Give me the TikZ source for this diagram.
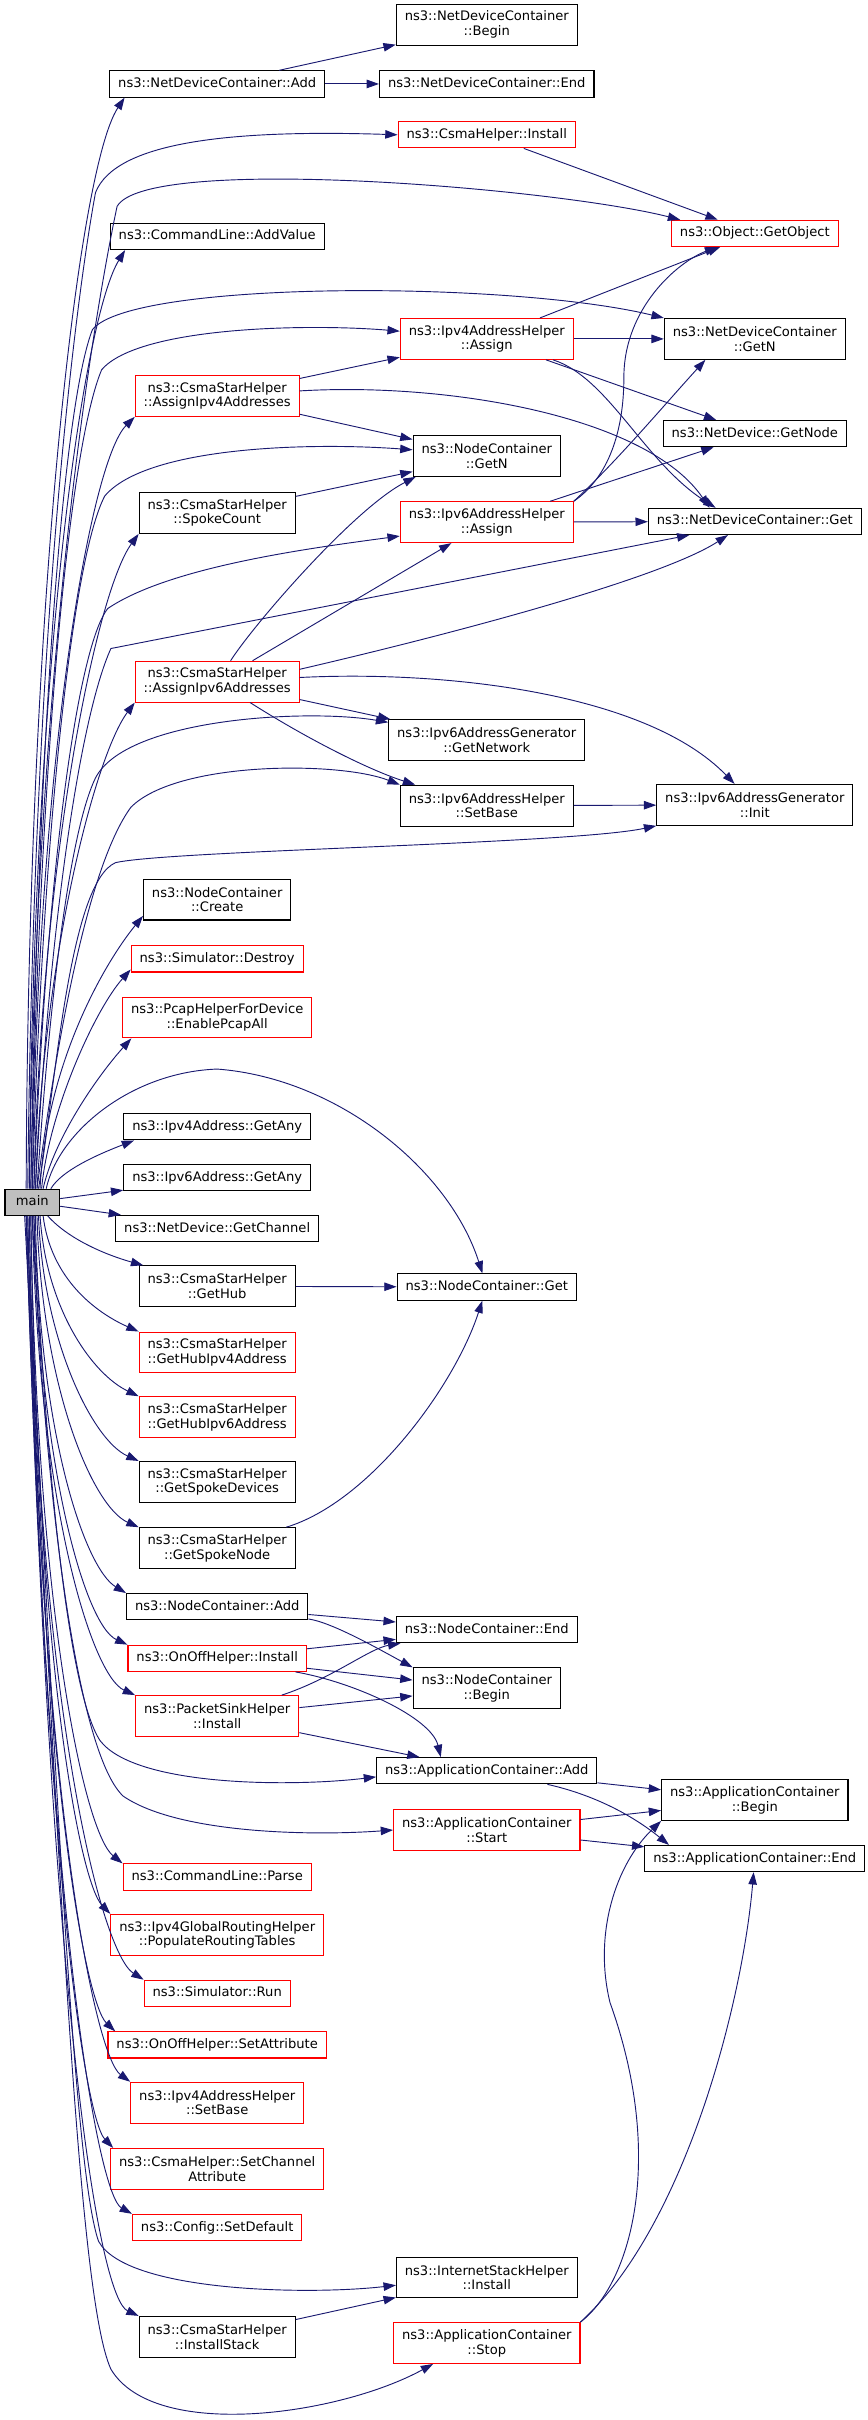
\documentclass[tikz,border=0pt]{standalone}
\usepackage{fontspec}
\setmainfont{DejaVu Sans}
\usetikzlibrary{arrows.meta}
\definecolor{edgeblue}{HTML}{191970}
\definecolor{mainfill}{HTML}{BFBFBF}
\begin{document}
\begin{tikzpicture}[x=1pt, y=-1pt,
    fn/.style={draw=black, line width=0.7pt, rectangle, font=\fontsize{8.5}{9.6}\selectfont, inner xsep=5.5pt, inner ysep=0pt, text height=6.6pt, text depth=2pt, minimum height=17pt},
    fn2/.style={draw=black, line width=0.7pt, rectangle, align=center, font=\fontsize{8.5}{9.6}\selectfont, inner xsep=5.5pt, inner ysep=0pt, minimum height=26.5pt},
    fnred/.style={fn, draw=red},
    fnred2/.style={fn2, draw=red},
    call/.style={draw=edgeblue, line width=0.6pt, -{Triangle[length=8pt,width=5.5pt]}}]
    \useasboundingbox (0,0) rectangle (563,1571);

    % callees of main
    \node (netAdd) [fn] at (141,54.5) {ns3::NetDeviceContainer::Add};
    \node (addValue) [fn] at (141,153.5) {ns3::CommandLine::AddValue};
    \node (starV4) [fnred2] at (141,257) {ns3::CsmaStarHelper\\::AssignIpv4Addresses};
    \node (spokeCount) [fn2] at (141,333) {ns3::CsmaStarHelper\\::SpokeCount};
    \node (starV6) [fnred2] at (141,442.5) {ns3::CsmaStarHelper\\::AssignIpv6Addresses};
    \node (ncCreate) [fn2] at (141,584) {ns3::NodeContainer\\::Create};
    \node (simDestroy) [fnred] at (141,622.5) {ns3::Simulator::Destroy};
    \node (pcapAll) [fnred2] at (141,660.5) {ns3::PcapHelperForDevice\\::EnablePcapAll};
    \node (v4Any) [fn] at (141,731.5) {ns3::Ipv4Address::GetAny};
    \node (v6Any) [fn] at (141,764.5) {ns3::Ipv6Address::GetAny};
    \node (main) [fn, fill=mainfill, minimum width=35.5pt] at (21,780.5) {main};
    \node (getChannel) [fn] at (141,797.5) {ns3::NetDevice::GetChannel};
    \node (getHub) [fn2] at (141,835) {ns3::CsmaStarHelper\\::GetHub};
    \node (getHubV4) [fnred2] at (141,878) {ns3::CsmaStarHelper\\::GetHubIpv4Address};
    \node (getHubV6) [fnred2] at (141,920) {ns3::CsmaStarHelper\\::GetHubIpv6Address};
    \node (spokeDevs) [fn2] at (141,962) {ns3::CsmaStarHelper\\::GetSpokeDevices};
    \node (spokeNode) [fn2] at (141,1005) {ns3::CsmaStarHelper\\::GetSpokeNode};
    \node (ncAdd) [fn] at (141,1043) {ns3::NodeContainer::Add};
    \node (onoffInstall) [fnred] at (141,1076.5) {ns3::OnOffHelper::Install};
    \node (sinkInstall) [fnred2] at (141,1114) {ns3::PacketSinkHelper\\::Install};
    \node (clParse) [fnred] at (141,1218.5) {ns3::CommandLine::Parse};
    \node (populate) [fnred2] at (141,1256) {ns3::Ipv4GlobalRoutingHelper\\::PopulateRoutingTables};
    \node (simRun) [fnred] at (141,1294) {ns3::Simulator::Run};
    \node (setAttr) [fnred] at (141,1327.5) {ns3::OnOffHelper::SetAttribute};
    \node (v4SetBase) [fnred2] at (141,1365) {ns3::Ipv4AddressHelper\\::SetBase};
    \node (setChannel) [fnred2] at (141,1408) {ns3::CsmaHelper::SetChannel\\Attribute};
    \node (setDefault) [fnred] at (141,1446) {ns3::Config::SetDefault};
    \node (installStack) [fn2] at (141,1517) {ns3::CsmaStarHelper\\::InstallStack};

    % third column
    \node (netBegin) [fn2] at (316,16) {ns3::NetDeviceContainer\\::Begin};
    \node (netEnd) [fn] at (316,54.5) {ns3::NetDeviceContainer::End};
    \node (csmaInstall) [fnred] at (316,87.5) {ns3::CsmaHelper::Install};
    \node (v4Assign) [fnred2] at (316,220) {ns3::Ipv4AddressHelper\\::Assign};
    \node (ncGetN) [fn2] at (316,296) {ns3::NodeContainer\\::GetN};
    \node (v6Assign) [fnred2] at (316,339) {ns3::Ipv6AddressHelper\\::Assign};
    \node (getNetwork) [fn2] at (316,480.5) {ns3::Ipv6AddressGenerator\\::GetNetwork};
    \node (v6SetBase) [fn2] at (316,523) {ns3::Ipv6AddressHelper\\::SetBase};
    \node (ncGet) [fn] at (316,835.5) {ns3::NodeContainer::Get};
    \node (ncEnd) [fn] at (316,1058) {ns3::NodeContainer::End};
    \node (ncBegin) [fn2] at (316,1096) {ns3::NodeContainer\\::Begin};
    \node (appAdd) [fn] at (316,1149.5) {ns3::ApplicationContainer::Add};
    \node (appStart) [fnred2] at (316,1188) {ns3::ApplicationContainer\\::Start};
    \node (ishInstall) [fn2] at (316,1478.5) {ns3::InternetStackHelper\\::Install};
    \node (appStop) [fnred2] at (316,1521) {ns3::ApplicationContainer\\::Stop};

    % fourth column
    \node (getObject) [fnred] at (490,151.5) {ns3::Object::GetObject};
    \node (netGetN) [fn2] at (490,220) {ns3::NetDeviceContainer\\::GetN};
    \node (getNode) [fn] at (490,281.5) {ns3::NetDevice::GetNode};
    \node (netGet) [fn] at (490,338.5) {ns3::NetDeviceContainer::Get};
    \node (v6Init) [fn2] at (490,522.5) {ns3::Ipv6AddressGenerator\\::Init};
    \node (appBegin) [fn2] at (490,1168.5) {ns3::ApplicationContainer\\::Begin};
    \node (appEnd) [fn] at (490,1206.5) {ns3::ApplicationContainer::End};

    % main, upwards
    \draw[call] ([xshift=-4pt]main.north) .. controls (18,400) and (50,110) .. ([xshift=10pt]netAdd.south west);
    \draw[call] ([xshift=-3pt]main.north) .. controls (22,400) and (50,190) .. (62,125) .. controls (75,92) and (150,84) .. (csmaInstall.west);
    \draw[call] ([xshift=-2pt]main.north) .. controls (24,420) and (62,200) .. (76,134) .. controls (95,100) and (360,122) .. ([xshift=6pt]getObject.north west);
    \draw[call] ([xshift=-2pt]main.north) .. controls (22,420) and (55,205) .. ([xshift=10pt]addValue.south west);
    \draw[call] ([xshift=-1pt]main.north) .. controls (25,460) and (42,260) .. (60,214) .. controls (85,182) and (330,182) .. (netGetN.north west);
    \draw[call] ([xshift=-1pt]main.north) .. controls (26,490) and (45,290) .. (66,240) .. controls (90,212) and (200,210) .. ([yshift=5pt]v4Assign.west);
    \draw[call] (main.north) .. controls (24,500) and (58,300) .. (starV4.south west);
    \draw[call] (main.north) .. controls (28,530) and (48,360) .. (68,322) .. controls (95,290) and (200,287) .. ([yshift=4pt]ncGetN.west);
    \draw[call] ([xshift=1pt]main.north) .. controls (27,560) and (62,385) .. (spokeCount.south west);
    \draw[call] ([xshift=1pt]main.north) .. controls (30,570) and (50,420) .. (70,395) .. controls (110,368) and (200,356) .. ([yshift=-9pt]v6Assign.west);
    \draw[call] ([xshift=2pt]main.north) .. controls (32,600) and (52,465) .. (72,421) -- ([xshift=27pt]netGet.south west);
    \draw[call] ([xshift=2pt]main.north) .. controls (28,620) and (62,490) .. (starV6.south west);
    \draw[call] ([xshift=3pt]main.north) .. controls (32,650) and (45,540) .. (62,505) .. controls (82,466) and (200,460) .. ([yshift=-2pt]getNetwork.north west);
    \draw[call] ([xshift=3pt]main.north) .. controls (35,690) and (55,565) .. (85,524) .. controls (115,494) and (220,494) .. (v6SetBase.north west);
    \draw[call] ([xshift=4pt]main.north) .. controls (36,705) and (45,573) .. (75,560) .. controls (110,552) and (370,548) .. (v6Init.south west);
    \draw[call] ([xshift=5pt]main.north) .. controls (30,690) and (68,625) .. ([yshift=3pt]ncCreate.south west);
    \draw[call] ([xshift=6pt]main.north) .. controls (32,720) and (62,655) .. ([yshift=2pt]simDestroy.south west);
    \draw[call] ([xshift=7pt]main.north) .. controls (35,740) and (62,700) .. ([xshift=6pt]pcapAll.south west);
    \draw[call] ([xshift=9pt]main.north) .. controls (38,735) and (85,696) .. (141,694) .. controls (220,700) and (292,760) .. (ncGet);
    \draw[call] ([xshift=12pt]main.north) .. controls (40,760) and (62,750) .. ([xshift=7pt]v4Any.south west);
    \draw[call] (main) -- (v6Any);
    \draw[call] (main) -- (getChannel);

    % main, downwards
    \draw[call] ([xshift=10pt]main.south) .. controls (45,805) and (70,815) .. ([xshift=3pt]getHub.north west);
    \draw[call] ([xshift=7pt]main.south) .. controls (33,830) and (62,852) .. (getHubV4.north west);
    \draw[call] ([xshift=5pt]main.south) .. controls (30,850) and (60,892) .. (getHubV6.north west);
    \draw[call] ([xshift=4pt]main.south) .. controls (28,870) and (60,935) .. (spokeDevs.north west);
    \draw[call] ([xshift=3pt]main.south) .. controls (27,900) and (60,978) .. (spokeNode.north west);
    \draw[call] ([xshift=2pt]main.south) .. controls (25,930) and (55,1018) .. (ncAdd.north west);
    \draw[call] ([xshift=1pt]main.south) .. controls (25,950) and (55,1055) .. (onoffInstall.north west);
    \draw[call] (main.south) .. controls (25,980) and (60,1088) .. (sinkInstall.north west);
    \draw[call] ([xshift=1pt]main.south) .. controls (30,960) and (45,1100) .. (65,1130) .. controls (88,1160) and (190,1160) .. ([yshift=-4pt]appAdd.west);
    \draw[call] (main.south) .. controls (30,990) and (52,1140) .. (80,1166) .. controls (115,1190) and (200,1192) .. (appStart.west);
    \draw[call] ([xshift=-1pt]main.south) .. controls (24,1050) and (55,1190) .. (clParse.north west);
    \draw[call] ([xshift=-1pt]main.south) .. controls (24,1080) and (52,1222) .. (populate.north west);
    \draw[call] ([xshift=-2pt]main.south) .. controls (24,1110) and (66,1268) .. (simRun.north west);
    \draw[call] ([xshift=-2pt]main.south) .. controls (25,1140) and (55,1300) .. ([xshift=5pt]setAttr.north west);
    \draw[call] ([xshift=-3pt]main.south) .. controls (26,1170) and (62,1335) .. (v4SetBase.north west);
    \draw[call] ([xshift=-3pt]main.south) .. controls (28,1200) and (55,1375) .. ([xshift=2pt]setChannel.north west);
    \draw[call] ([xshift=-4pt]main.south) .. controls (30,1250) and (64,1425) .. (setDefault.north west);
    \draw[call] ([xshift=-4pt]main.south) .. controls (36,1150) and (48,1410) .. (64,1455) .. controls (82,1488) and (200,1490) .. ([yshift=-5pt]ishInstall.west);
    \draw[call] ([xshift=-4pt]main.south) .. controls (33,1320) and (65,1492) .. (installStack.north west);
    \draw[call] ([xshift=-5pt]main.south) .. controls (38,1200) and (50,1490) .. (72,1538) .. controls (100,1585) and (220,1568) .. ([xshift=26pt]appStop.south west);

    % second level calls
    \draw[call] (netAdd) -- (netBegin);
    \draw[call] (netAdd) -- (netEnd);
    \draw[call] (csmaInstall) -- (getObject);
    \draw[call] (v4Assign) -- (getObject);
    \draw[call] (v4Assign) -- (netGetN);
    \draw[call] (v4Assign) -- (getNode);
    \draw[call] (v4Assign) .. controls (395,245) and (418,300) .. ([xshift=44pt]netGet.north west);
    \draw[call] (starV4) -- (v4Assign);
    \draw[call] (starV4) -- (ncGetN);
    \draw[call] (starV4) .. controls (290,248) and (420,270) .. ([xshift=40pt]netGet.north west);
    \draw[call] (spokeCount) -- (ncGetN);
    \draw[call] (v6Assign) -- (netGet);
    \draw[call] (v6Assign) -- (getNode);
    \draw[call] (v6Assign.north east) .. controls (400,300) and (432,262) .. ([xshift=27pt]netGetN.south west);
    \draw[call] (v6Assign.north east) .. controls (395,310) and (405,280) .. (405,245) .. controls (405,200) and (440,170) .. ([xshift=30pt]getObject.south west);
    \draw[call] (starV6) .. controls (165,405) and (230,330) .. ([xshift=2pt]ncGetN.south west);
    \draw[call] (starV6) -- (v6Assign);
    \draw[call] ([yshift=8pt]starV6.east) .. controls (300,410) and (430,375) .. ([xshift=52pt]netGet.south west);
    \draw[call] (starV6) -- (getNetwork);
    \draw[call] (starV6) .. controls (200,480) and (240,500) .. ([xshift=10pt]v6SetBase.north west);
    \draw[call] (starV6) .. controls (290,435) and (420,450) .. (v6Init);
    \draw[call] (v6SetBase) -- (v6Init);
    \draw[call] (getHub) -- (ncGet);
    \draw[call] (spokeNode) .. controls (240,975) and (295,900) .. (ncGet);
    \draw[call] (ncAdd) -- (ncEnd);
    \draw[call] (ncAdd) .. controls (215,1053) and (245,1070) .. (ncBegin.north west);
    \draw[call] (onoffInstall) -- (ncEnd);
    \draw[call] (onoffInstall) -- (ncBegin);
    \draw[call] (onoffInstall) .. controls (230,1092) and (280,1115) .. ([xshift=42pt]appAdd.north west);
    \draw[call] (sinkInstall) .. controls (215,1090) and (240,1070) .. (ncEnd);
    \draw[call] (sinkInstall) -- (ncBegin);
    \draw[call] (sinkInstall) -- (appAdd);
    \draw[call] (appAdd) -- (appBegin);
    \draw[call] (appAdd) .. controls (385,1165) and (410,1178) .. ([xshift=16pt]appEnd.north west);
    \draw[call] (appStart) -- (appBegin);
    \draw[call] (appStart) -- (appEnd);
    \draw[call] (installStack) -- (ishInstall);
    \draw[call] (appStop.north east) .. controls (410,1482) and (432,1400) .. (396,1300) .. controls (385,1255) and (400,1210) .. (appBegin.south west);
    \draw[call] (appStop.north east) .. controls (445,1445) and (482,1300) .. (appEnd);
\end{tikzpicture}
\end{document}
